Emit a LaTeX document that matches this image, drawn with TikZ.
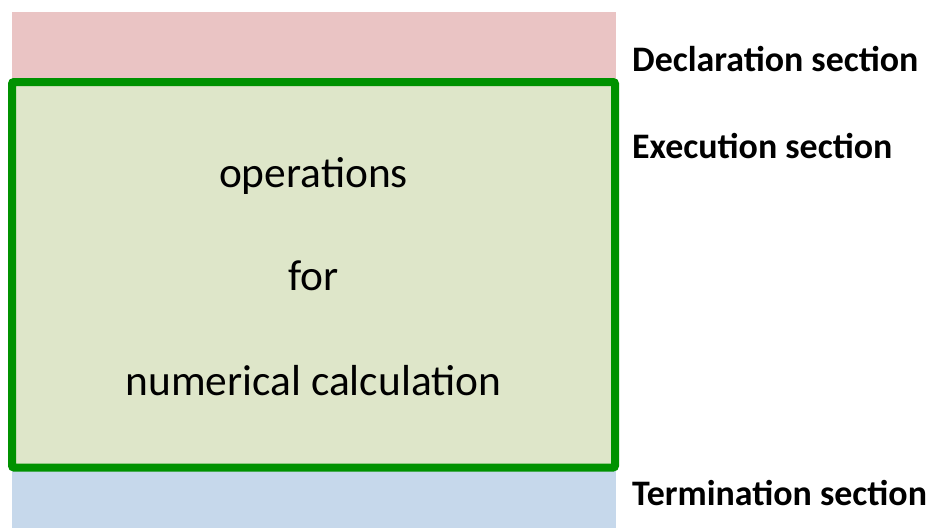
\documentclass[tikz,border=0pt]{standalone}
\usepackage{fontspec}
\setmainfont{Carlito}
\definecolor{declfill}{RGB}{234,196,196}
\definecolor{execfill}{RGB}{222,230,201}
\definecolor{termfill}{RGB}{198,216,235}
\definecolor{execline}{RGB}{0,146,0}
\begin{document}
\begin{tikzpicture}[x=1pt,y=-1pt,
  sectlabel/.style={anchor=base west,inner sep=0pt,font=\fontsize{35.9}{36}\selectfont\bfseries},
  bodytext/.style={anchor=base,inner sep=0pt,font=\fontsize{43.4}{44}\selectfont}]
\useasboundingbox (0,0) rectangle (935,528);
\fill[declfill] (12,12) rectangle (616,90);
\fill[termfill] (12,460) rectangle (616,528);
\draw[execline,fill=execfill,line width=8pt,rounded corners=2pt] (12,82) rectangle (615,467.5);
\node[bodytext] (op) at (313.5,187) {operations};
\node[bodytext] (for) at (313.5,290) {for};
\node[bodytext] (num) at (313.5,395) {numerical calculation};
\node[sectlabel] (decl) at (632,71) {Declaration section};
\node[sectlabel] (exec) at (632,158) {Execution section};
\node[sectlabel] (term) at (632,505) {Termination section};
\end{tikzpicture}
\end{document}
